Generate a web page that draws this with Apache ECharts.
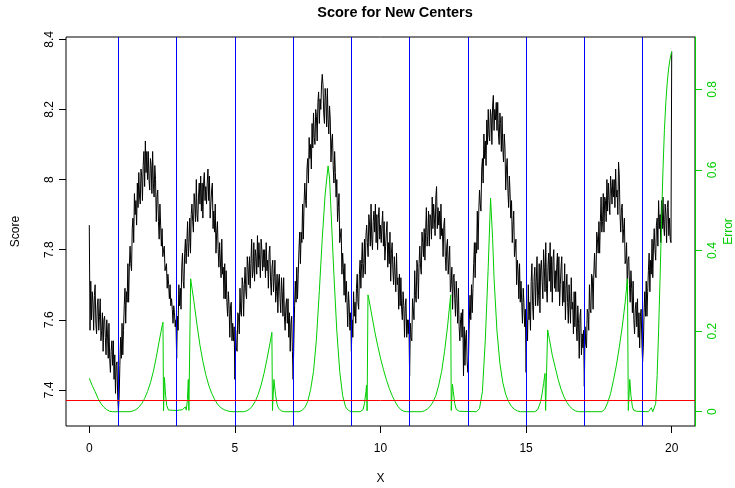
<!DOCTYPE html>
<html>
<head>
<meta charset="utf-8">
<script src="https://cdn.jsdelivr.net/npm/echarts@6/dist/echarts.min.js"></script>
<style>
  html, body { margin: 0; padding: 0; background: #fff; }
  #main { width: 735px; height: 488px; }
</style>
</head>
<body>
<div id="main"></div>
<script>
// score sampled every 0.025 on x, from 0 to 20 (one row = one unit of x)
var scoreStep = 0.025
var scoreVals = [
  7.87,
  7.57, 7.71, 7.60, 7.68, 7.65, 7.57, 7.67, 7.70, 7.59, 7.56, 7.64, 7.66, 7.57, 7.61, 7.66, 7.54, 7.57, 7.62, 7.51, 7.60,
  7.61, 7.55, 7.50, 7.60, 7.56, 7.49, 7.59, 7.49, 7.45, 7.51, 7.54, 7.47, 7.54, 7.43, 7.50, 7.39, 7.47, 7.48, 7.38, 7.34,
  7.38, 7.47, 7.55, 7.49, 7.59, 7.50, 7.57, 7.64, 7.69, 7.59, 7.68, 7.65, 7.76, 7.65, 7.75, 7.81, 7.76, 7.74, 7.86, 7.89,
  7.82, 7.96, 7.90, 7.94, 7.87, 7.99, 7.92, 8.02, 7.95, 7.93, 8.03, 8.01, 7.94, 8.04, 8.08, 7.98, 8.11, 8.02, 8.08, 8.00,
  8.08, 8.00, 7.97, 8.06, 8.04, 7.96, 8.08, 7.99, 7.95, 8.04, 8.00, 7.88, 7.95, 7.97, 7.88, 7.83, 7.93, 7.87, 7.81, 7.86,
  7.78, 7.80, 7.81, 7.74, 7.74, 7.76, 7.69, 7.73, 7.70, 7.66, 7.70, 7.64, 7.66, 7.63, 7.59, 7.64, 7.62, 7.58, 7.60, 7.49,
  7.61, 7.57, 7.70, 7.64, 7.69, 7.63, 7.75, 7.79, 7.71, 7.69, 7.79, 7.83, 7.76, 7.82, 7.88, 7.78, 7.82, 7.89, 7.79, 7.90,
  7.93, 7.88, 7.85, 7.96, 7.93, 7.88, 8.00, 7.90, 7.88, 7.95, 7.99, 7.93, 8.01, 7.91, 7.99, 7.89, 7.99, 8.02, 7.94, 7.98,
  7.93, 7.99, 8.03, 7.94, 8.01, 7.89, 7.93, 7.97, 7.99, 7.86, 7.91, 7.85, 7.93, 7.79, 7.85, 7.88, 7.80, 7.75, 7.82, 7.82,
  7.72, 7.83, 7.73, 7.75, 7.66, 7.76, 7.66, 7.74, 7.65, 7.61, 7.68, 7.64, 7.55, 7.64, 7.65, 7.54, 7.59, 7.54, 7.58, 7.43,
  7.57, 7.52, 7.51, 7.62, 7.61, 7.56, 7.69, 7.62, 7.61, 7.72, 7.70, 7.61, 7.70, 7.75, 7.68, 7.66, 7.78, 7.75, 7.70, 7.78,
  7.69, 7.76, 7.83, 7.72, 7.74, 7.82, 7.71, 7.80, 7.78, 7.73, 7.84, 7.75, 7.82, 7.77, 7.72, 7.83, 7.80, 7.74, 7.80, 7.75,
  7.80, 7.72, 7.82, 7.74, 7.77, 7.69, 7.79, 7.81, 7.71, 7.67, 7.75, 7.77, 7.68, 7.72, 7.77, 7.65, 7.68, 7.73, 7.62, 7.71,
  7.73, 7.66, 7.62, 7.72, 7.68, 7.61, 7.72, 7.61, 7.57, 7.64, 7.66, 7.59, 7.66, 7.55, 7.62, 7.51, 7.59, 7.61, 7.51, 7.43,
  7.54, 7.64, 7.71, 7.65, 7.75, 7.66, 7.73, 7.80, 7.85, 7.76, 7.85, 7.82, 7.93, 7.83, 7.93, 7.99, 7.94, 7.92, 8.03, 8.06,
  7.99, 8.12, 8.06, 8.10, 8.03, 8.16, 8.09, 8.19, 8.12, 8.10, 8.20, 8.18, 8.11, 8.22, 8.25, 8.16, 8.23, 8.20, 8.27, 8.30,
  8.27, 8.19, 8.16, 8.26, 8.23, 8.15, 8.26, 8.17, 8.13, 8.21, 8.17, 8.05, 8.11, 8.13, 8.04, 7.99, 8.08, 8.02, 7.95, 8.00,
  7.88, 7.92, 7.96, 7.82, 7.82, 7.86, 7.73, 7.79, 7.75, 7.67, 7.76, 7.65, 7.71, 7.65, 7.58, 7.68, 7.64, 7.57, 7.62, 7.51,
  7.60, 7.55, 7.68, 7.61, 7.65, 7.59, 7.69, 7.73, 7.65, 7.63, 7.73, 7.77, 7.69, 7.76, 7.82, 7.72, 7.76, 7.83, 7.73, 7.84,
  7.87, 7.82, 7.78, 7.90, 7.87, 7.81, 7.93, 7.83, 7.80, 7.88, 7.91, 7.85, 7.93, 7.82, 7.90, 7.80, 7.89, 7.92, 7.83, 7.87,
  7.82, 7.87, 7.91, 7.81, 7.88, 7.77, 7.81, 7.85, 7.88, 7.75, 7.82, 7.76, 7.85, 7.71, 7.79, 7.82, 7.74, 7.70, 7.78, 7.78,
  7.68, 7.79, 7.70, 7.72, 7.63, 7.73, 7.64, 7.72, 7.63, 7.60, 7.68, 7.64, 7.55, 7.64, 7.66, 7.55, 7.60, 7.56, 7.60, 7.44,
  7.59, 7.55, 7.54, 7.66, 7.66, 7.60, 7.74, 7.67, 7.65, 7.77, 7.75, 7.66, 7.76, 7.81, 7.75, 7.73, 7.85, 7.82, 7.78, 7.86,
  7.77, 7.85, 7.92, 7.81, 7.84, 7.91, 7.81, 7.90, 7.89, 7.83, 7.95, 7.86, 7.93, 7.89, 7.84, 7.95, 7.98, 7.86, 7.92, 7.87,
  7.91, 7.83, 7.93, 7.84, 7.86, 7.78, 7.87, 7.89, 7.78, 7.74, 7.81, 7.83, 7.73, 7.77, 7.81, 7.68, 7.70, 7.75, 7.63, 7.72,
  7.73, 7.66, 7.61, 7.71, 7.66, 7.59, 7.69, 7.58, 7.54, 7.60, 7.62, 7.55, 7.63, 7.44, 7.58, 7.47, 7.55, 7.57, 7.48, 7.45,
  7.50, 7.60, 7.67, 7.60, 7.70, 7.62, 7.69, 7.76, 7.82, 7.72, 7.82, 7.79, 7.91, 7.80, 7.91, 7.97, 7.93, 7.91, 8.03, 8.06,
  7.99, 8.13, 8.06, 8.11, 8.04, 8.17, 8.10, 8.20, 8.13, 8.11, 8.20, 8.18, 8.10, 8.21, 8.24, 8.14, 8.20, 8.17, 8.22, 8.14,
  8.22, 8.13, 8.10, 8.19, 8.16, 8.08, 8.18, 8.09, 8.05, 8.13, 8.09, 7.97, 8.03, 8.06, 7.97, 7.92, 8.01, 7.96, 7.89, 7.94,
  7.82, 7.87, 7.91, 7.78, 7.78, 7.83, 7.70, 7.77, 7.74, 7.66, 7.76, 7.65, 7.71, 7.65, 7.59, 7.69, 7.65, 7.58, 7.63, 7.45,
  7.60, 7.54, 7.70, 7.60, 7.65, 7.57, 7.71, 7.76, 7.64, 7.60, 7.72, 7.75, 7.64, 7.71, 7.78, 7.64, 7.67, 7.76, 7.62, 7.75,
  7.77, 7.71, 7.66, 7.80, 7.75, 7.68, 7.82, 7.69, 7.65, 7.75, 7.79, 7.71, 7.82, 7.68, 7.78, 7.65, 7.77, 7.80, 7.69, 7.74,
  7.68, 7.75, 7.79, 7.68, 7.78, 7.64, 7.70, 7.75, 7.78, 7.64, 7.71, 7.65, 7.76, 7.60, 7.69, 7.73, 7.65, 7.59, 7.70, 7.70,
  7.59, 7.72, 7.63, 7.65, 7.56, 7.68, 7.58, 7.68, 7.58, 7.54, 7.64, 7.59, 7.49, 7.61, 7.63, 7.50, 7.56, 7.52, 7.57, 7.41,
  7.58, 7.53, 7.52, 7.63, 7.62, 7.57, 7.70, 7.63, 7.62, 7.73, 7.72, 7.63, 7.73, 7.79, 7.73, 7.72, 7.85, 7.83, 7.79, 7.88,
  7.79, 7.88, 7.95, 7.85, 7.88, 7.96, 7.85, 7.95, 7.94, 7.88, 8.00, 7.91, 7.99, 7.94, 7.90, 8.01, 7.98, 7.93, 8.00, 7.95,
  8.00, 7.92, 8.03, 7.95, 7.97, 7.90, 8.05, 8.01, 7.90, 7.85, 7.92, 7.93, 7.82, 7.86, 7.89, 7.76, 7.77, 7.82, 7.69, 7.77,
  7.78, 7.70, 7.65, 7.74, 7.69, 7.62, 7.71, 7.60, 7.56, 7.63, 7.65, 7.58, 7.66, 7.55, 7.62, 7.52, 7.61, 7.63, 7.54, 7.48,
  7.52, 7.62, 7.68, 7.61, 7.71, 7.61, 7.68, 7.74, 7.79, 7.68, 7.77, 7.73, 7.83, 7.72, 7.81, 7.86, 7.80, 7.77, 7.87, 7.89,
  7.81, 7.94, 7.86, 7.90, 7.82, 7.94, 7.86, 7.95, 7.87, 7.84, 7.93, 7.90, 7.82, 7.92, 7.94, 7.84, 7.89, 7.83, 7.82, 8.365
]

// error curve, [x, error]
var errorPts = [
  [0, 0.083], [0.1, 0.065], [0.2, 0.05], [0.3, 0.033], [0.4, 0.02], [0.5, 0.011], [0.6, 0.005], [0.7, 0.001], [0.8, 0],
  [1.4, 0], [1.5, 0.002], [1.6, 0.005], [1.7, 0.011], [1.8, 0.02], [1.9, 0.033], [2.0, 0.05], [2.1, 0.072], [2.2, 0.1],
  [2.3, 0.135], [2.4, 0.175], [2.5, 0.213], [2.53, 0.222], [2.55, 0.002], [2.58, 0.085], [2.62, 0.04], [2.66, 0.015],
  [2.72, 0.004], [3.0, 0.003], [3.2, 0.005], [3.3, 0.012], [3.33, 0.004], [3.37, 0.03], [3.4, 0.08], [3.42, 0.003],
  [3.48, 0.33], [3.5, 0.32], [3.6, 0.27], [3.7, 0.215], [3.8, 0.165], [3.9, 0.125], [4.0, 0.092], [4.1, 0.066],
  [4.2, 0.046], [4.3, 0.031], [4.4, 0.019], [4.5, 0.011], [4.6, 0.006], [4.7, 0.003], [4.8, 0.001], [4.9, 0],
  [5.3, 0], [5.4, 0.002], [5.5, 0.006], [5.6, 0.014], [5.7, 0.026], [5.8, 0.043], [5.9, 0.066], [6.0, 0.095],
  [6.1, 0.13], [6.2, 0.168], [6.27, 0.197], [6.29, 0.003], [6.34, 0.08], [6.4, 0.04], [6.45, 0.018], [6.5, 0.008],
  [6.6, 0.002], [6.7, 0],
  [7.2, 0], [7.3, 0.003], [7.4, 0.01], [7.5, 0.025], [7.6, 0.055], [7.7, 0.1], [7.8, 0.18], [7.9, 0.3], [8.0, 0.43],
  [8.1, 0.54], [8.2, 0.61], [8.25, 0.58], [8.3, 0.5], [8.4, 0.34], [8.5, 0.2], [8.6, 0.1], [8.7, 0.04], [8.8, 0.012],
  [8.9, 0.003], [9.0, 0],
  [9.3, 0], [9.4, 0.005], [9.45, 0.02], [9.5, 0.05], [9.52, 0.066], [9.54, 0.002], [9.57, 0.29], [9.6, 0.28],
  [9.7, 0.24], [9.8, 0.2], [9.9, 0.165], [10.0, 0.133], [10.1, 0.105], [10.2, 0.08], [10.3, 0.058], [10.4, 0.04],
  [10.5, 0.025], [10.6, 0.013], [10.7, 0.005], [10.8, 0.001], [10.9, 0],
  [11.4, 0], [11.5, 0.002], [11.6, 0.006], [11.7, 0.013], [11.8, 0.024], [11.9, 0.04], [12.0, 0.066], [12.1, 0.1],
  [12.2, 0.15], [12.3, 0.21], [12.41, 0.29], [12.43, 0.003], [12.47, 0.068], [12.5, 0.05], [12.55, 0.02],
  [12.6, 0.006], [12.7, 0.001],
  [13.3, 0], [13.4, 0.008], [13.5, 0.05], [13.6, 0.18], [13.7, 0.36], [13.78, 0.53], [13.85, 0.43], [13.9, 0.33],
  [14.0, 0.2], [14.1, 0.12], [14.2, 0.072], [14.3, 0.043], [14.4, 0.025], [14.5, 0.013], [14.6, 0.006], [14.7, 0.002],
  [14.8, 0],
  [15.3, 0], [15.4, 0.005], [15.5, 0.025], [15.55, 0.045], [15.6, 0.07], [15.65, 0.095], [15.67, 0.003],
  [15.74, 0.203], [15.8, 0.18], [15.9, 0.14], [16.0, 0.11], [16.1, 0.08], [16.2, 0.056], [16.3, 0.037], [16.4, 0.023],
  [16.5, 0.013], [16.6, 0.006], [16.7, 0.002], [16.8, 0],
  [17.6, 0], [17.7, 0.006], [17.8, 0.022], [17.9, 0.045], [18.0, 0.078], [18.1, 0.115], [18.2, 0.16], [18.3, 0.21],
  [18.4, 0.27], [18.48, 0.33], [18.51, 0.003], [18.56, 0.08], [18.6, 0.04], [18.65, 0.012], [18.7, 0.003],
  [18.8, 0.001], [19.2, 0], [19.3, 0.01], [19.35, 0], [19.4, 0], [19.45, 0.02], [19.5, 0.09], [19.55, 0.2],
  [19.6, 0.33], [19.65, 0.47], [19.7, 0.6], [19.75, 0.7], [19.8, 0.77], [19.85, 0.82], [19.9, 0.855], [19.95, 0.878],
  [20.0, 0.894]
]

var centers = [1, 3, 5, 7, 9, 11, 13, 15, 17, 19]
var threshold = 7.369
var xTicks = [0, 5, 10, 15, 20]
var scoreTicks = [7.4, 7.6, 7.8, 8, 8.2, 8.4]
var errorTicks = [0, 0.2, 0.4, 0.6, 0.8]

var font = 'Liberation Sans'
var green = '#00cd00'

var scoreData = scoreVals.map(function (v, i) { return [+(i * scoreStep).toFixed(3), v] })

var myChart = echarts.init(document.getElementById('main'))
myChart.setOption({
  animation: false,
  title: {
    text: 'Score for New Centers',
    left: 390,
    top: 0,
    textAlign: 'center',
    textStyle: { fontFamily: font, fontSize: 14.5, fontWeight: 'bold', color: '#000' }
  },
  grid: {
    left: 66, right: 40, top: 37, bottom: 62,
    outerBoundsMode: 'none',
    containLabel: false,
    show: true, borderColor: '#000', borderWidth: 1
  },
  xAxis: {
    type: 'value',
    min: -0.8, max: 20.8,
    axisLine: { show: false, onZero: false },
    axisTick: { show: true, customValues: xTicks, length: 7, lineStyle: { color: '#000' } },
    axisLabel: { customValues: xTicks, margin: 17, fontSize: 12, fontFamily: font, color: '#000' },
    splitLine: { show: false },
    name: 'X', nameLocation: 'middle', nameGap: 47, nameMoveOverlap: false,
    nameTextStyle: { fontSize: 12, fontFamily: font, color: '#000' }
  },
  yAxis: [
    {
      type: 'value', position: 'left',
      min: 7.297, max: 8.4066,
      axisLine: { show: false, onZero: false },
      axisTick: { show: true, customValues: scoreTicks, length: 7, lineStyle: { color: '#000' } },
      axisLabel: {
        customValues: scoreTicks, rotate: 90, margin: 10,
        fontSize: 12, fontFamily: font, color: '#000',
        formatter: function (v) { return String(v) }
      },
      splitLine: { show: false },
      name: 'Score', nameLocation: 'middle', nameGap: 44, nameRotate: 90, nameMoveOverlap: false,
      nameTextStyle: { fontSize: 12, fontFamily: font, color: '#000' }
    },
    {
      type: 'value', position: 'right',
      min: -0.0355, max: 0.93,
      axisLine: { show: true, onZero: false, lineStyle: { color: green, width: 1 } },
      axisTick: { show: true, customValues: errorTicks, length: 7, lineStyle: { color: green } },
      axisLabel: {
        customValues: errorTicks, rotate: 90, margin: 12,
        fontSize: 12, fontFamily: font, color: green,
        formatter: function (v) { return String(v) }
      },
      splitLine: { show: false },
      name: 'Error', nameLocation: 'middle', nameGap: 28, nameRotate: 90, nameMoveOverlap: false,
      nameTextStyle: { fontSize: 12, fontFamily: font, color: green }
    }
  ],
  series: [
    {
      name: 'score',
      type: 'line',
      yAxisIndex: 0,
      data: scoreData,
      showSymbol: false,
      lineStyle: { color: '#000', width: 1 },
      z: 2,
      markLine: {
        silent: true,
        symbol: ['none', 'none'],
        label: { show: false },
        lineStyle: { color: '#0000ff', width: 1, type: 'solid' },
        data: centers.map(function (c) { return { xAxis: c } })
      }
    },
    {
      name: 'threshold',
      type: 'line',
      yAxisIndex: 0,
      data: [],
      markLine: {
        silent: true,
        symbol: ['none', 'none'],
        label: { show: false },
        lineStyle: { color: '#ff0000', width: 1, type: 'solid' },
        data: [{ yAxis: threshold }]
      }
    },
    {
      name: 'error',
      type: 'line',
      yAxisIndex: 1,
      data: errorPts,
      showSymbol: false,
      lineStyle: { color: green, width: 1 },
      z: 3
    }
  ]
})
</script>
</body>
</html>
